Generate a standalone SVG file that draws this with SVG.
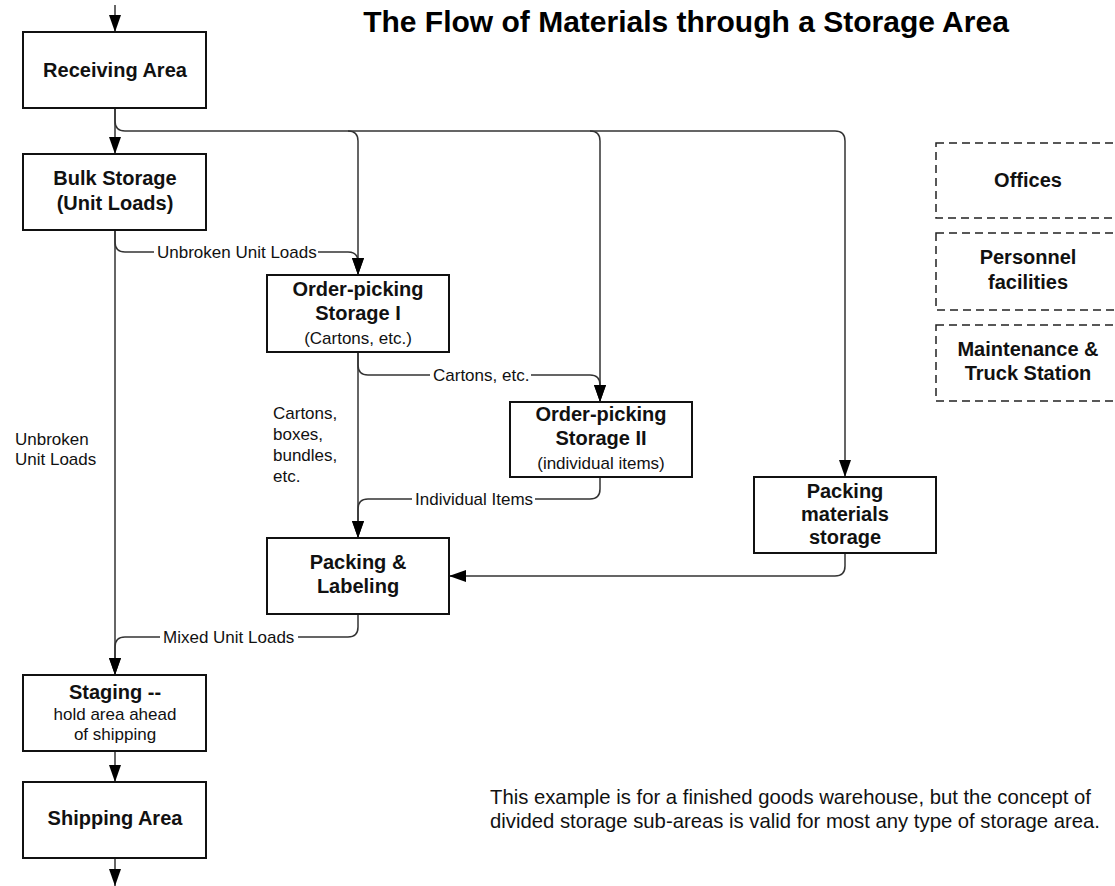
<svg xmlns="http://www.w3.org/2000/svg" width="1115" height="886" viewBox="0 0 1115 886">
  <defs>
    <marker id="arrow" markerUnits="userSpaceOnUse" markerWidth="18" markerHeight="14" refX="17" refY="6" orient="auto">
      <path d="M0,0 L17,6 L0,12 z" fill="#000"/>
    </marker>
    <style>
      text { font-family: "Liberation Sans", Arial, sans-serif; fill: #111; }
      .box { fill: #fff; stroke: #111; stroke-width: 2; }
      .dash { fill: #fff; stroke: #222; stroke-width: 1.5; stroke-dasharray: 8 5; }
      .b { font-weight: bold; font-size: 20px; text-anchor: middle; }
      .r { font-size: 17px; text-anchor: middle; }
      .lbl { font-size: 17px; }
      .line { fill: none; stroke: #333; stroke-width: 1.5; }
      .arr { marker-end: url(#arrow); }
      .mask { fill: #fff; }
      .title { font-weight: bold; font-size: 30px; text-anchor: middle; fill: #000; }
      .note { font-size: 20.3px; }
    </style>
  </defs>

  <rect width="1115" height="886" fill="#fff"/>

  <text class="title" x="686" y="32">The Flow of Materials through a Storage Area</text>

  <!-- connectors -->
  <g id="connectors">
    <path class="line arr" d="M115,5 V32"/>
    <path class="line arr" d="M115,108 V154"/>
    <path class="line arr" d="M115,108 V121 Q115,131 125,131 H348 Q358,131 358,141 V275"/>
    <path class="line arr" d="M348,131 H590 Q600,131 600,141 V402"/>
    <path class="line arr" d="M590,131 H835 Q845,131 845,141 V477"/>
    <path class="line arr" d="M115,230 V675"/>
    <path class="line arr" d="M115,230 V242 Q115,252 125,252 H348 Q358,252 358,262 V275"/>
    <path class="line arr" d="M358,352 V538"/>
    <path class="line arr" d="M358,352 V365 Q358,375 368,375 H590 Q600,375 600,385 V402"/>
    <path class="line arr" d="M600,477 V489 Q600,499 590,499 H368 Q358,499 358,509 V538"/>
    <path class="line arr" d="M845,553 V566 Q845,576 835,576 H449"/>
    <path class="line arr" d="M358,614 V627 Q358,637 348,637 H125 Q115,637 115,647 V675"/>
    <path class="line arr" d="M115,751 V782"/>
    <path class="line arr" d="M115,858 V886"/>

    <!-- connector labels -->
    <rect class="mask" x="154" y="244" width="164" height="16"/>
    <text class="lbl" x="157" y="258">Unbroken Unit Loads</text>
    <rect class="mask" x="430" y="367" width="101" height="16"/>
    <text class="lbl" x="433" y="381">Cartons, etc.</text>
    <rect class="mask" x="412" y="491" width="123" height="16"/>
    <text class="lbl" x="415" y="505">Individual Items</text>
    <rect class="mask" x="160" y="629" width="138" height="16"/>
    <text class="lbl" x="163" y="643">Mixed Unit Loads</text>

    <text class="lbl" x="15" y="445">Unbroken</text>
    <text class="lbl" x="15" y="465">Unit Loads</text>

    <text class="lbl" x="273" y="419">Cartons,</text>
    <text class="lbl" x="273" y="440">boxes,</text>
    <text class="lbl" x="273" y="461">bundles,</text>
    <text class="lbl" x="273" y="482">etc.</text>
  </g>

  <!-- process areas -->
  <g id="receiving">
    <rect class="box" x="23" y="32" width="183" height="76"/>
    <text class="b" x="115" y="77">Receiving Area</text>
  </g>
  <g id="bulk-storage">
    <rect class="box" x="23" y="154" width="183" height="76"/>
    <text class="b" x="115" y="185">Bulk Storage</text>
    <text class="b" x="115" y="210">(Unit Loads)</text>
  </g>
  <g id="order-picking-1">
    <rect class="box" x="267" y="275" width="182" height="77"/>
    <text class="b" x="358" y="296">Order-picking</text>
    <text class="b" x="358" y="320">Storage I</text>
    <text class="r" x="358" y="344">(Cartons, etc.)</text>
  </g>
  <g id="order-picking-2">
    <rect class="box" x="510" y="402" width="182" height="75"/>
    <text class="b" x="601" y="421">Order-picking</text>
    <text class="b" x="601" y="445">Storage II</text>
    <text class="r" x="601" y="469">(individual items)</text>
  </g>
  <g id="packing-materials">
    <rect class="box" x="754" y="477" width="182" height="76"/>
    <text class="b" x="845" y="498">Packing</text>
    <text class="b" x="845" y="521">materials</text>
    <text class="b" x="845" y="544">storage</text>
  </g>
  <g id="packing-labeling">
    <rect class="box" x="267" y="538" width="182" height="76"/>
    <text class="b" x="358" y="569">Packing &amp;</text>
    <text class="b" x="358" y="593">Labeling</text>
  </g>
  <g id="staging">
    <rect class="box" x="23" y="675" width="183" height="76"/>
    <text class="b" x="115" y="699">Staging --</text>
    <text class="r" x="115" y="720">hold area ahead</text>
    <text class="r" x="115" y="740">of shipping</text>
  </g>
  <g id="shipping">
    <rect class="box" x="23" y="782" width="183" height="76"/>
    <text class="b" x="115" y="825">Shipping Area</text>
  </g>

  <!-- support areas -->
  <g id="offices">
    <rect class="dash" x="936" y="143" width="200" height="75"/>
    <text class="b" x="1028" y="187">Offices</text>
  </g>
  <g id="personnel">
    <rect class="dash" x="936" y="233" width="200" height="77"/>
    <text class="b" x="1028" y="264">Personnel</text>
    <text class="b" x="1028" y="289">facilities</text>
  </g>
  <g id="maintenance">
    <rect class="dash" x="936" y="325" width="200" height="76"/>
    <text class="b" x="1028" y="356">Maintenance &amp;</text>
    <text class="b" x="1028" y="380">Truck Station</text>
  </g>

  <g id="note">
    <text class="note" x="490" y="804">This example is for a finished goods warehouse, but the concept of</text>
    <text class="note" x="490" y="828">divided storage sub-areas is valid for most any type of storage area.</text>
  </g>
</svg>
